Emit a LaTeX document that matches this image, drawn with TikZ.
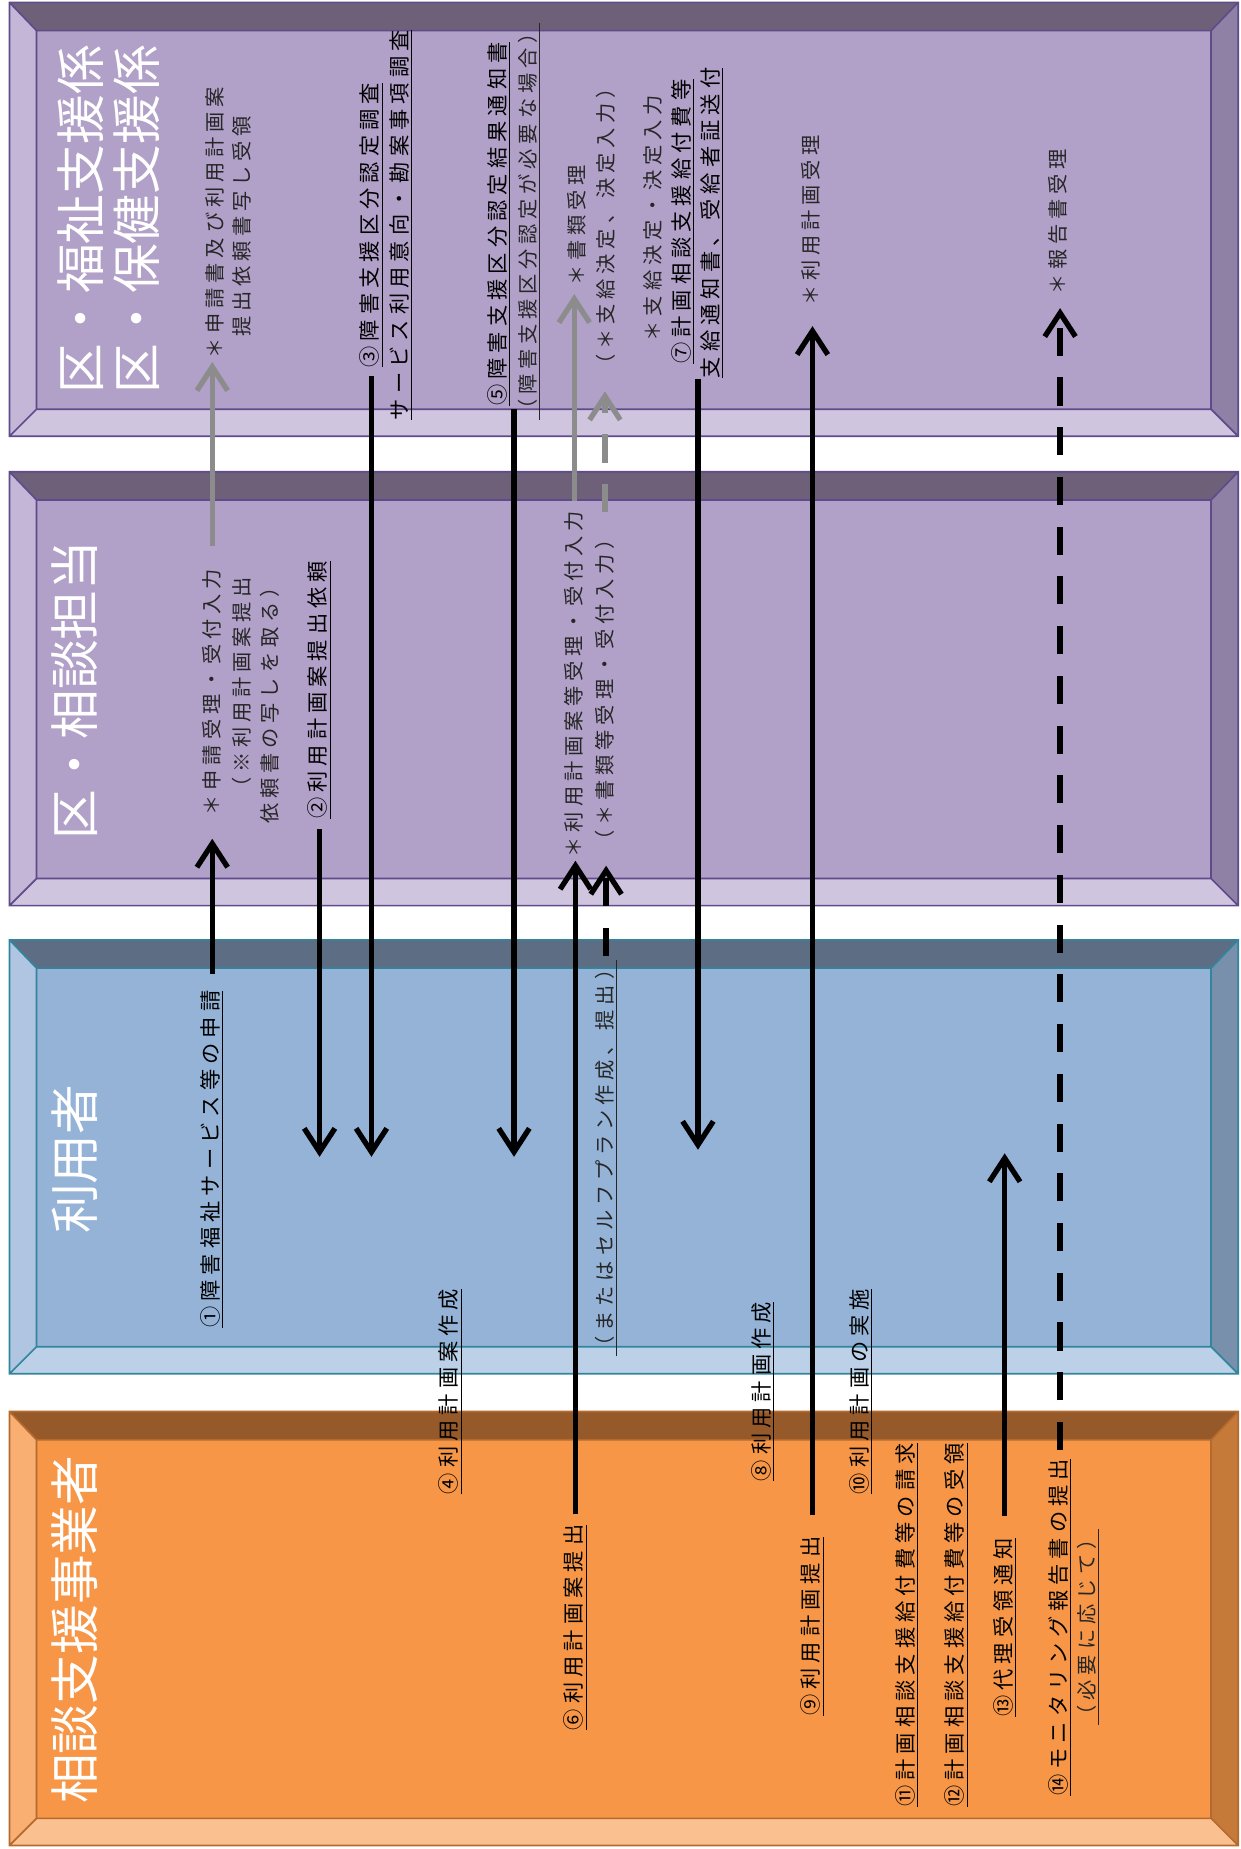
\documentclass[tikz,border=0pt]{standalone}
\usepackage{fontspec}
\setmainfont{Noto Sans CJK JP}
\newfontfamily\jpwide[LetterSpace=24]{Noto Sans CJK JP}
\usetikzlibrary{arrows.meta,calc}

% band colours: face, bevel sides, outline
\definecolor{purpleface}{HTML}{B1A0C7}
\definecolor{purpletop}{HTML}{6E6079}
\definecolor{purplebot}{HTML}{CFC5DF}
\definecolor{purpleleft}{HTML}{C3B6D6}
\definecolor{purpleright}{HTML}{8F80A5}
\definecolor{purpleedge}{HTML}{5F4A8B}
\definecolor{blueface}{HTML}{95B3D7}
\definecolor{bluetop}{HTML}{5D6D83}
\definecolor{bluebot}{HTML}{BCD0E8}
\definecolor{blueleft}{HTML}{AFC5E1}
\definecolor{blueright}{HTML}{7890AB}
\definecolor{blueedge}{HTML}{31859C}
\definecolor{orangeface}{HTML}{F79646}
\definecolor{orangetop}{HTML}{96592A}
\definecolor{orangebot}{HTML}{FAC090}
\definecolor{orangeleft}{HTML}{F9AE72}
\definecolor{orangeright}{HTML}{C67A3A}
\definecolor{orangeedge}{HTML}{B46A2E}
\definecolor{arrgray}{HTML}{8C8C8C}

\begin{document}
\begin{tikzpicture}[x=0.025cm,y=-0.025cm,
  ttl/.style={rotate=90,inner sep=0pt,text=white,align=center,font=\fontsize{30}{34}\selectfont},
  note/.style={rotate=90,inner sep=2pt,text=black!85,font=\jpwide\fontsize{12.2}{16}\selectfont},
  lab/.style={note,text=black,font=\jpwide\fontsize{12.8}{16}\selectfont},
  arr/.style={line width=3.2pt,-{Straight Barb[length=5mm,width=6.5mm]}},
  garr/.style={arr,draw=arrgray},
  dsh/.style={dash pattern=on 17pt off 13pt}]
  \useasboundingbox (0,0) rectangle (1052,1568);

  % four bevelled bands
  \foreach \bandy/\bandc in {2/purple,400/purple,797/blue,1197/orange}{
    \fill[fill=\bandc face] (8,\bandy) rectangle (1050,\bandy+368);
    \fill[fill=\bandc top] (8,\bandy) -- (1050,\bandy) -- (1027,\bandy+24) -- (31,\bandy+24) -- cycle;
    \fill[fill=\bandc bot] (8,\bandy+368) -- (1050,\bandy+368) -- (1027,\bandy+345) -- (31,\bandy+345) -- cycle;
    \fill[fill=\bandc left] (8,\bandy) -- (31,\bandy+24) -- (31,\bandy+345) -- (8,\bandy+368) -- cycle;
    \fill[fill=\bandc right] (1050,\bandy) -- (1027,\bandy+24) -- (1027,\bandy+345) -- (1050,\bandy+368) -- cycle;
    \draw[draw=\bandc edge,line width=1pt] (8,\bandy) rectangle (1050,\bandy+368)
      (31,\bandy+24) rectangle (1027,\bandy+345)
      (8,\bandy) -- (31,\bandy+24) (1050,\bandy) -- (1027,\bandy+24)
      (8,\bandy+368) -- (31,\bandy+345) (1050,\bandy+368) -- (1027,\bandy+345);
  }

  % titles
  \node[ttl] (t1) at (92,186) {区・福祉支援係\\区・保健支援係};
  \node[ttl] (t2) at (63,585) {区・相談担当};
  \node[ttl] (t3) at (63,983) {利用者};
  \node[ttl] (t4) at (63,1382) {相談支援事業者};

  % ward welfare / health section
  \node[note] (n1a) at (182,189) {＊申請書及び利用計画案};
  \node[note] (n1b) at (205,192) {提出依頼書写し受領};
  \node[lab] (n3a) at (315,191) {\underline{③障害支援区分認定調査}};
  \node[lab] (n3b) at (340,191) {\underline{サービス利用意向・勘案事項調査}};
  \node[lab] (n5a) at (423,190) {\underline{⑤障害支援区分認定結果通知書}};
  \node[note] (n5b) at (449,188) {\underline{（障害支援区分認定が必要な場合）}};
  \node[note] (n6a) at (489,191) {＊書類受理};
  \node[note] (n6b) at (514,192) {（＊支給決定、決定入力）};
  \node[note] (n7a) at (554,185) {＊支給決定・決定入力};
  \node[lab] (n7b) at (579,188) {\underline{⑦計画相談支援給付費等}};
  \node[lab] (n7c) at (604,189) {\underline{支給通知書、受給者証送付}};
  \node[note] (n9a) at (688,187) {＊利用計画受理};
  \node[note] (n14a) at (897,188) {＊報告書受理};

  % ward consultation desk
  \node[note] (n1c) at (180,587) {＊申請受理・受付入力};
  \node[note] (n1d) at (205,583) {（※利用計画案提出};
  \node[note] (n1e) at (229,594) {依頼書の写しを取る）};
  \node[lab] (n2) at (271,585) {\underline{②利用計画案提出依頼}};
  \node[note] (n6c) at (487,580) {＊利用計画案等受理・受付入力};
  \node[note] (n6d) at (513,585) {（＊書類等受理・受付入力）};

  % user
  \node[lab] (n1) at (180,983) {\underline{①障害福祉サービス等の申請}};
  \node[note] (n6e) at (514,982) {\underline{（またはセルフプラン作成、提出）}};
  \node[lab] (n4) at (382,1180) {\underline{④利用計画案作成}};
  \node[lab] (n8) at (647,1180) {\underline{⑧利用計画作成}};
  \node[lab] (n10) at (730,1180) {\underline{⑩利用計画の実施}};

  % consultation provider
  \node[lab] (n6) at (488,1380) {\underline{⑥利用計画案提出}};
  \node[lab] (n9) at (689,1379) {\underline{⑨利用計画提出}};
  \node[lab] (n11) at (769,1378) {\underline{⑪計画相談支援給付費等の請求}};
  \node[lab] (n12) at (811,1378) {\underline{⑫計画相談支援給付費等の受領}};
  \node[lab] (n13) at (852,1380) {\underline{⑬代理受領通知}};
  \node[lab] (n14) at (899,1380) {\underline{⑭モニタリング報告書の提出}};
  \node[note] (n14b) at (923,1380) {\underline{（必要に応じて）}};

  % loose ends inside the user band
  \coordinate (d2) at (270,981);
  \coordinate (d3) at (314,981);
  \coordinate (d5) at (431,981);
  \coordinate (d7) at (593,975);
  \coordinate (u13) at (851,978);

  % upward flows
  \draw[arr,shorten <=8pt,shorten >=12pt] (n1.east) -- (n1.east |- n1c.west);
  \draw[garr,shorten <=12pt] (n1c.east) -- (n1c.east |- n1a.west);
  \draw[arr,shorten <=4pt] (n6.east) -- (n6.east |- n6c.west);
  \draw[garr,shorten <=4pt,shorten >=3pt] (n6c.east) -- (n6c.east |- n6a.west);
  \draw[arr,dsh,shorten >=7pt] (n6e.east) -- (n6e.east |- n6d.west);
  \draw[garr,dsh,shorten <=8pt,shorten >=8pt] (n6d.east) -- (n6d.east |- n6b.west);
  \draw[arr,shorten <=11pt,shorten >=10pt] (n9.east) -- (n9.east |- n9a.west);
  \draw[arr,shorten <=11pt] (n13.east) -- (n13.east |- u13);
  \draw[arr,dsh,shorten <=3pt,shorten >=6pt] (n14.east) -- (n14.east |- n14a.west);

  % downward flows
  \draw[arr,shorten <=4pt] (n2.west) -- (n2.west |- d2);
  \draw[arr,shorten <=3pt] (n3a.west) -- (n3a.west |- d3);
  \draw[arr] (n5a.south west) -- (n5a.south west |- d5);
  \draw[arr,shorten <=7pt] (n7b.south west) -- (n7b.south west |- d7);
\end{tikzpicture}
\end{document}
